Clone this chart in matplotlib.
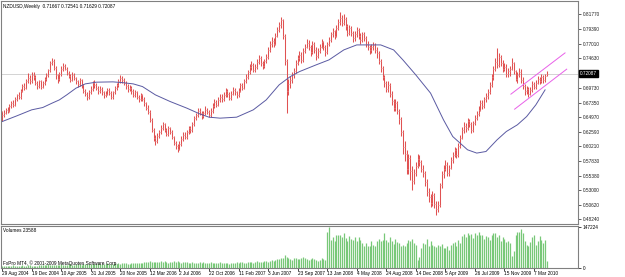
import matplotlib
matplotlib.use("Agg")
import matplotlib.pyplot as plt
import numpy as np

plt.rcParams["font.family"] = ["Liberation Sans", "DejaVu Sans"]

# NZDUSD weekly, bars from 29 Aug 2004 (week 0) to early May 2010
first_open = 0.6580
close = [
    0.6530, 0.6570, 0.6610, 0.6600, 0.6680, 0.6720, 0.6700, 0.6790, 0.6850, 0.6820,
    0.6930, 0.7000, 0.6980, 0.7090, 0.7140, 0.7080, 0.7190, 0.7160, 0.7060, 0.7010,
    0.7080, 0.6990, 0.7050, 0.7120, 0.7180, 0.7260, 0.7390, 0.7420, 0.7300, 0.7180,
    0.7120, 0.7200, 0.7290, 0.7340, 0.7290, 0.7220, 0.7170, 0.7110, 0.7190, 0.7140,
    0.7080, 0.7030, 0.7100, 0.7020, 0.6930, 0.6880, 0.6820, 0.6900, 0.6960, 0.7050,
    0.7020, 0.6970, 0.6920, 0.6960, 0.6900, 0.6850, 0.6880, 0.6940, 0.6890, 0.6830,
    0.6900, 0.6970, 0.7020, 0.7080, 0.7130, 0.7100, 0.7060, 0.7000, 0.6950, 0.6980,
    0.6920, 0.6860, 0.6900, 0.6830, 0.6790, 0.6850, 0.6800, 0.6720, 0.6650, 0.6580,
    0.6450, 0.6290, 0.6150, 0.6100, 0.6190, 0.6250, 0.6320, 0.6380, 0.6290, 0.6220,
    0.6310, 0.6260, 0.6170, 0.6080, 0.6020, 0.5980, 0.6060, 0.6140, 0.6210, 0.6170,
    0.6250, 0.6310, 0.6280, 0.6380, 0.6480, 0.6530, 0.6600, 0.6570, 0.6510, 0.6560,
    0.6620, 0.6580, 0.6530, 0.6600, 0.6680, 0.6740, 0.6700, 0.6780, 0.6830, 0.6790,
    0.6860, 0.6920, 0.6870, 0.6810, 0.6880, 0.6940, 0.6900, 0.6850, 0.6930, 0.7020,
    0.6980, 0.7080, 0.7150, 0.7230, 0.7310, 0.7350, 0.7270, 0.7320, 0.7400, 0.7460,
    0.7380, 0.7330, 0.7410, 0.7480, 0.7600, 0.7690, 0.7750, 0.7700, 0.7830, 0.7920,
    0.8010, 0.8080, 0.7830, 0.7420, 0.6920, 0.7040, 0.7100, 0.7180, 0.7250, 0.7390,
    0.7460, 0.7520, 0.7430, 0.7580, 0.7650, 0.7710, 0.7640, 0.7560, 0.7690, 0.7600,
    0.7500, 0.7580, 0.7650, 0.7720, 0.7640, 0.7560, 0.7690, 0.7760, 0.7850, 0.7900,
    0.7830, 0.7950, 0.8050, 0.8120, 0.8030, 0.8100, 0.7980, 0.7880, 0.7960, 0.7870,
    0.7790, 0.7850, 0.7920, 0.7830, 0.7760, 0.7850, 0.7790, 0.7700, 0.7640, 0.7590,
    0.7650, 0.7680, 0.7600, 0.7540, 0.7420, 0.7300, 0.7150, 0.7050, 0.6960, 0.7020,
    0.6880, 0.6760, 0.6650, 0.6720, 0.6590, 0.6460, 0.6250, 0.6010, 0.5890, 0.5650,
    0.5820, 0.5620, 0.5450, 0.5580, 0.5700, 0.5810, 0.5760, 0.5650, 0.5580, 0.5430,
    0.5270, 0.5180, 0.5090, 0.5220, 0.5080, 0.4990, 0.5060, 0.5380, 0.5560, 0.5650,
    0.5720, 0.5580, 0.5670, 0.5790, 0.5880, 0.5950, 0.5870, 0.6020, 0.6160, 0.6280,
    0.6350, 0.6310, 0.6430, 0.6380, 0.6290, 0.6400, 0.6480, 0.6550, 0.6620, 0.6730,
    0.6680, 0.6790, 0.6840, 0.6900, 0.7020, 0.7150, 0.7280, 0.7400, 0.7350, 0.7480,
    0.7390, 0.7290, 0.7320, 0.7200, 0.7250, 0.7290, 0.7380, 0.7250, 0.7120, 0.7180,
    0.7240, 0.7110, 0.7000, 0.6920, 0.6960, 0.6880, 0.6940, 0.7040, 0.6990, 0.7060,
    0.7120, 0.7080, 0.7150, 0.7100, 0.7167, 0.72087,
]
high = [
    0.6600, 0.6610, 0.6650, 0.6660, 0.6710, 0.6760, 0.6770, 0.6820, 0.6880, 0.6900,
    0.6960, 0.7040, 0.7060, 0.7120, 0.7220, 0.7180, 0.7240, 0.7230, 0.7180, 0.7090,
    0.7110, 0.7100, 0.7090, 0.7160, 0.7220, 0.7290, 0.7420, 0.7470, 0.7440, 0.7330,
    0.7210, 0.7240, 0.7340, 0.7390, 0.7370, 0.7320, 0.7250, 0.7200, 0.7230, 0.7220,
    0.7160, 0.7110, 0.7140, 0.7120, 0.7040, 0.6960, 0.6910, 0.6940, 0.7000, 0.7090,
    0.7100, 0.7060, 0.7000, 0.7010, 0.6990, 0.6930, 0.6920, 0.6980, 0.6970, 0.6920,
    0.6930, 0.7010, 0.7060, 0.7120, 0.7180, 0.7170, 0.7140, 0.7090, 0.7030, 0.7020,
    0.7010, 0.6950, 0.6940, 0.6920, 0.6860, 0.6890, 0.6880, 0.6830, 0.6750, 0.6690,
    0.6610, 0.6480, 0.6320, 0.6200, 0.6230, 0.6290, 0.6370, 0.6420, 0.6400, 0.6320,
    0.6350, 0.6340, 0.6280, 0.6190, 0.6110, 0.6060, 0.6100, 0.6180, 0.6250, 0.6250,
    0.6290, 0.6350, 0.6350, 0.6420, 0.6520, 0.6570, 0.6650, 0.6640, 0.6600, 0.6600,
    0.6670, 0.6650, 0.6610, 0.6640, 0.6720, 0.6790, 0.6780, 0.6820, 0.6880, 0.6870,
    0.6900, 0.6970, 0.6950, 0.6900, 0.6920, 0.6990, 0.6980, 0.6930, 0.6970, 0.7060,
    0.7060, 0.7120, 0.7200, 0.7270, 0.7360, 0.7410, 0.7380, 0.7360, 0.7450, 0.7510,
    0.7490, 0.7420, 0.7450, 0.7530, 0.7640, 0.7740, 0.7800, 0.7790, 0.7870, 0.7970,
    0.8060, 0.8130, 0.8110, 0.7860, 0.7450, 0.7120, 0.7170, 0.7230, 0.7300, 0.7430,
    0.7510, 0.7580, 0.7560, 0.7620, 0.7700, 0.7780, 0.7760, 0.7680, 0.7740, 0.7730,
    0.7640, 0.7630, 0.7700, 0.7770, 0.7750, 0.7670, 0.7730, 0.7810, 0.7890, 0.7960,
    0.7930, 0.8000, 0.8110, 0.8210, 0.8170, 0.8180, 0.8140, 0.8020, 0.8010, 0.7990,
    0.7910, 0.7900, 0.7970, 0.7950, 0.7870, 0.7890, 0.7890, 0.7820, 0.7740, 0.7680,
    0.7700, 0.7730, 0.7710, 0.7640, 0.7580, 0.7450, 0.7330, 0.7190, 0.7090, 0.7080,
    0.7060, 0.6930, 0.6800, 0.6790, 0.6760, 0.6630, 0.6500, 0.6290, 0.6100, 0.5950,
    0.5900, 0.5880, 0.5700, 0.5640, 0.5760, 0.5890, 0.5870, 0.5800, 0.5720, 0.5620,
    0.5480, 0.5330, 0.5240, 0.5280, 0.5250, 0.5120, 0.5120, 0.5420, 0.5620, 0.5720,
    0.5790, 0.5760, 0.5720, 0.5840, 0.5930, 0.6010, 0.5990, 0.6070, 0.6210, 0.6340,
    0.6410, 0.6400, 0.6480, 0.6470, 0.6420, 0.6440, 0.6530, 0.6600, 0.6680, 0.6780,
    0.6770, 0.6830, 0.6890, 0.6960, 0.7070, 0.7200, 0.7330, 0.7460, 0.7630, 0.7540,
    0.7520, 0.7430, 0.7380, 0.7360, 0.7300, 0.7330, 0.7460, 0.7400, 0.7270, 0.7230,
    0.7300, 0.7280, 0.7150, 0.7040, 0.7010, 0.6990, 0.6990, 0.7080, 0.7070, 0.7100,
    0.7170, 0.7150, 0.7200, 0.7180, 0.7210, 0.72541,
]
low = [
    0.6440, 0.6500, 0.6540, 0.6560, 0.6580, 0.6650, 0.6660, 0.6680, 0.6760, 0.6790,
    0.6800, 0.6900, 0.6940, 0.6960, 0.7060, 0.7030, 0.7050, 0.7100, 0.7020, 0.6960,
    0.6980, 0.6950, 0.6970, 0.7020, 0.7090, 0.7150, 0.7230, 0.7350, 0.7270, 0.7120,
    0.7060, 0.7090, 0.7170, 0.7250, 0.7260, 0.7180, 0.7130, 0.7070, 0.7090, 0.7100,
    0.7040, 0.6990, 0.7000, 0.6980, 0.6890, 0.6840, 0.6780, 0.6800, 0.6870, 0.6930,
    0.6980, 0.6940, 0.6880, 0.6890, 0.6860, 0.6810, 0.6820, 0.6850, 0.6860, 0.6790,
    0.6800, 0.6870, 0.6940, 0.6990, 0.7050, 0.7060, 0.7020, 0.6960, 0.6910, 0.6920,
    0.6880, 0.6820, 0.6830, 0.6790, 0.6750, 0.6760, 0.6760, 0.6680, 0.6610, 0.6540,
    0.6410, 0.6250, 0.6100, 0.6040, 0.6070, 0.6150, 0.6220, 0.6290, 0.6250, 0.6180,
    0.6190, 0.6220, 0.6130, 0.6040, 0.5970, 0.5920, 0.5950, 0.6030, 0.6110, 0.6130,
    0.6140, 0.6220, 0.6240, 0.6250, 0.6350, 0.6450, 0.6500, 0.6530, 0.6470, 0.6480,
    0.6530, 0.6540, 0.6490, 0.6500, 0.6570, 0.6650, 0.6660, 0.6670, 0.6750, 0.6750,
    0.6760, 0.6830, 0.6830, 0.6770, 0.6780, 0.6850, 0.6860, 0.6810, 0.6820, 0.6900,
    0.6940, 0.6950, 0.7050, 0.7120, 0.7200, 0.7270, 0.7230, 0.7230, 0.7290, 0.7370,
    0.7340, 0.7280, 0.7300, 0.7380, 0.7450, 0.7560, 0.7650, 0.7640, 0.7670, 0.7800,
    0.7890, 0.7960, 0.7780, 0.7350, 0.6560, 0.6850, 0.6980, 0.7050, 0.7130, 0.7220,
    0.7350, 0.7420, 0.7380, 0.7400, 0.7540, 0.7620, 0.7590, 0.7500, 0.7530, 0.7550,
    0.7430, 0.7460, 0.7540, 0.7620, 0.7590, 0.7490, 0.7530, 0.7660, 0.7730, 0.7810,
    0.7780, 0.7800, 0.7920, 0.8010, 0.7980, 0.8000, 0.7930, 0.7830, 0.7840, 0.7820,
    0.7730, 0.7750, 0.7810, 0.7780, 0.7700, 0.7730, 0.7740, 0.7650, 0.7590, 0.7530,
    0.7540, 0.7600, 0.7550, 0.7470, 0.7360, 0.7240, 0.7100, 0.6990, 0.6900, 0.6910,
    0.6830, 0.6700, 0.6600, 0.6590, 0.6540, 0.6380, 0.6180, 0.5900, 0.5780, 0.5570,
    0.5560, 0.5460, 0.5310, 0.5400, 0.5530, 0.5660, 0.5700, 0.5590, 0.5520, 0.5370,
    0.5200, 0.5110, 0.5030, 0.5040, 0.5010, 0.4900, 0.4950, 0.5030, 0.5340, 0.5500,
    0.5610, 0.5530, 0.5540, 0.5640, 0.5750, 0.5840, 0.5820, 0.5850, 0.5990, 0.6130,
    0.6240, 0.6260, 0.6280, 0.6330, 0.6240, 0.6260, 0.6370, 0.6450, 0.6510, 0.6590,
    0.6630, 0.6650, 0.6750, 0.6800, 0.6870, 0.6990, 0.7110, 0.7250, 0.7300, 0.7310,
    0.7340, 0.7230, 0.7250, 0.7150, 0.7160, 0.7170, 0.7260, 0.7200, 0.7080, 0.7060,
    0.7150, 0.7060, 0.6950, 0.6860, 0.6880, 0.6820, 0.6850, 0.6910, 0.6950, 0.6960,
    0.7030, 0.7040, 0.7050, 0.7060, 0.7070, 0.71629,
]
volume = [
    6100, 7200, 6800, 8000, 7500, 8300, 9100, 7700, 6900, 8800, 8200, 9500, 8700, 7900, 9300, 10100, 8800, 6400, 7600, 8900,
    9200, 10300, 9400, 11200, 10500, 12600, 11800, 10100, 11500, 12300, 10400, 11900, 13200, 12100, 11000, 10200, 12700, 13500, 11600, 12400,
    12900, 13600, 14400, 12200, 13800, 15700, 14300, 13100, 14900, 15600, 13300, 14600, 16900, 14800, 13400, 15800, 14700, 16500, 15900, 14500,
    15200, 16400, 14300, 17500, 15600, 16800, 18200, 17400, 16000, 15100, 17600, 18500, 16300, 17300, 19400, 18100, 17000, 20300, 22800, 21600,
    25400, 21200, 23100, 19800, 22000, 20600, 24200, 21900, 23300, 20700,
    19600, 22100, 20500, 23600, 21800, 24400, 20900, 19700, 22000, 23200,
    20800, 19500, 18200, 20700, 19400, 17300, 18600, 19800, 18300, 20900, 19600, 17200, 18500, 20600, 19500, 18400, 17100, 19300, 20600, 18200,
    17200, 19600, 18400, 16100, 17300, 19500, 18300, 20700, 19600, 21800, 20500, 18400, 19700, 21900, 20600, 23000, 19500, 21800, 24100, 22800,
    20500, 22900, 25100, 24000, 21700, 26400, 28700, 25200, 29800, 32100, 31000, 34600, 36800, 45200, 41000, 35500, 31200, 29100, 34300, 37200,
    33100, 31000, 35400, 39100, 34200, 31100, 28900, 32400, 36300, 31200, 28000, 26000, 30100, 34200, 31000, 27100,
    129000, 147224, 100000, 110000, 98000, 118000, 118000, 120000, 112000, 125000, 108000, 96000, 115000, 103000, 100000, 112000, 95000, 110000, 100000, 90000,
    80000, 88000, 80000, 78000, 95000, 84000, 80000, 98000, 104000, 96000, 100000, 125000, 100000, 92000, 110000, 98000, 85000, 104000, 92000, 88000,
    80000, 84000, 80000, 90000, 100000, 95000, 105000, 88000, 84000, 30000, 38000, 70000, 90000, 85000, 104000, 78000, 96000, 82000, 80000, 76000,
    84000, 80000, 86000, 70000, 72000, 78000, 65000, 82000, 88000, 92000, 80000, 100000, 88000, 115000, 122000, 110000, 125000, 118000, 122000, 108000,
    124000, 120000, 128000, 118000, 120000, 105000, 115000, 110000, 102000, 118000, 124000, 126000, 112000, 118000, 96000, 110000, 105000, 92000, 96000, 90000,
    42000, 60000, 120000, 128000, 128000, 140000, 125000, 98000, 82000, 78000, 92000, 110000, 118000, 84000, 95000, 115000, 100000, 88000, 100000, 23588,
]
assert len(close) == len(high) == len(low) == len(volume), (len(close), len(high), len(low), len(volume))

# moving average (week index, value)
ma_week = [0, 8, 16, 22, 27, 31, 35, 40, 45, 51, 60, 65, 71, 76, 83, 91, 100, 107, 112, 118,
           127, 136, 143, 150, 156, 161, 170, 177, 185, 192, 205, 212, 217, 224, 232, 239, 244, 252, 257, 262,
           268, 273, 279, 284, 289, 294]
ma_value = [0.6423, 0.6517, 0.6615, 0.6653, 0.6724, 0.6778, 0.6860, 0.6970, 0.7040, 0.7068,
            0.7073, 0.7061, 0.7040, 0.6996, 0.6860, 0.6751, 0.6643, 0.6549, 0.6495, 0.6479,
            0.6495, 0.6615, 0.6778, 0.7024, 0.7159, 0.7241, 0.7351, 0.7433, 0.7596, 0.7678,
            0.7678, 0.7596, 0.7433, 0.7187, 0.6888, 0.6451, 0.6178, 0.5961, 0.5907, 0.5933,
            0.6124, 0.6260, 0.6370, 0.6505, 0.6697, 0.6942]

# trend channel drawn on the chart (two parallel lines)
chan_week = [275.5, 304.8]
chan_upper = [0.6872, 0.7547]
chan_lower_week = [277.5, 305.7]
chan_lower = [0.6626, 0.7281]

date_week = list(range(0, 289, 16))
date_text = ["29 Aug 2004", "19 Dec 2004", "10 Apr 2005", "31 Jul 2005", "20 Nov 2005",
             "12 Mar 2006", "2 Jul 2006", "22 Oct 2006", "11 Feb 2007", "3 Jun 2007",
             "23 Sep 2007", "13 Jan 2008", "4 May 2008", "24 Aug 2008", "14 Dec 2008",
             "5 Apr 2009", "26 Jul 2009", "15 Nov 2009", "7 Mar 2010"]
price_ticks = [0.81770, 0.79390, 0.77010, 0.74630, 0.69730, 0.67350, 0.64970,
               0.62590, 0.60210, 0.57830, 0.55380, 0.53000, 0.50620, 0.48240]
last_price = 0.72087
title = "NZDUSD,Weekly  0.71667 0.72541 0.71629 0.72087"

W, H = 625, 277
fig = plt.figure(figsize=(W / 100, H / 100), dpi=100)
fig.patch.set_facecolor("white")


def box(l, t, r, b):
    return [l / W, 1 - b / H, (r - l) / W, (b - t) / H]


R = 578
fs = 3.4
ax = fig.add_axes(box(1, 1, R, 224))
axv = fig.add_axes(box(1, 226, R, 268))

x = np.arange(len(close))
opens = np.r_[first_open, close[:-1]]
bar_col = "#e05252"
ax.vlines(x, low, high, color=bar_col, lw=0.75)
ax.hlines(opens, x - 0.5, x, color="#eea0a0", lw=0.5)
ax.hlines(close, x, x + 0.5, color="#eea0a0", lw=0.5)
ax.plot(ma_week, ma_value, color="#5a5aa2", lw=0.7)
ax.plot(chan_week, chan_upper, color="#e860e8", lw=0.7)
ax.plot(chan_lower_week, chan_lower, color="#e860e8", lw=0.7)
ax.axhline(last_price, color="#cccccc", lw=0.6, zorder=0)

xlim = (-0.6, (R - 3) / 1.844)
ax.set_xlim(*xlim)
ax.set_ylim(0.4746, 0.8397)
ax.set_xticks([])
ax.yaxis.tick_right()
ax.set_yticks(price_ticks)
ax.set_yticklabels(["%.5f" % v for v in price_ticks])
ax.tick_params(axis="y", length=2, width=0.5, pad=1.5, labelsize=fs, colors="#202020")
ax.text(1.004, last_price, "%.5f" % last_price, transform=ax.get_yaxis_transform(),
        fontsize=fs, color="white", va="center", ha="left",
        bbox=dict(boxstyle="square,pad=0.2", fc="black", ec="black"))
ax.text(0.004, 0.985, title, transform=ax.transAxes, fontsize=fs, va="top", ha="left")

axv.vlines(x, 0, volume, color="#78c878", lw=0.9)
axv.set_xlim(*xlim)
axv.set_ylim(0, 150500)
axv.set_xticks(date_week)
axv.set_xticklabels([])
axv.tick_params(axis="x", length=2, width=0.5)
axv.yaxis.tick_right()
axv.set_yticks([0, 147224])
axv.set_yticklabels(["0", "147224"])
axv.tick_params(axis="y", length=2, width=0.5, pad=1.5, labelsize=fs)
axv.text(0.004, 0.95, "Volumes 23588", transform=axv.transAxes, fontsize=fs, va="top")
axv.text(0.004, 0.04, "FxPro MT4, \u00a9 2001-2009 MetaQuotes Software Corp.",
         transform=axv.transAxes, fontsize=fs, va="bottom")
for wk, t in zip(date_week, date_text):
    axv.text(wk, -0.06, t, transform=axv.get_xaxis_transform(), fontsize=fs,
             va="top", ha="left")

for a in (ax, axv):
    for s in a.spines.values():
        s.set_color("#808080")
        s.set_linewidth(0.8)
    a.set_facecolor("white")

fig.savefig("out.png", dpi=100, facecolor="white")
